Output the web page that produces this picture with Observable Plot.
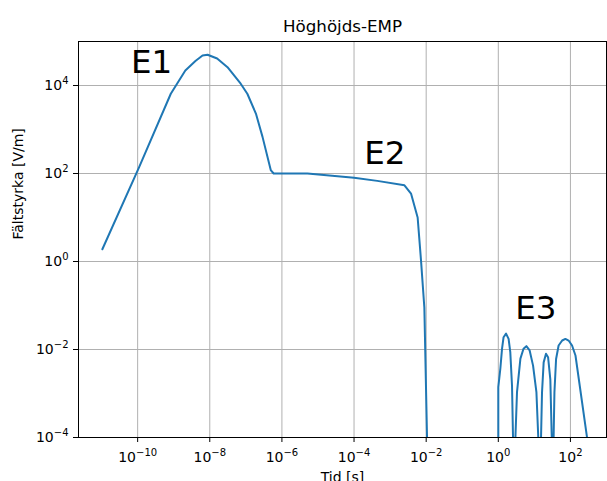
<!DOCTYPE html>
<html>
<head>
<meta charset="utf-8">
<script src="https://cdn.jsdelivr.net/npm/d3@7"></script>
<script src="https://cdn.jsdelivr.net/npm/@observablehq/plot@0.6"></script>
<style>
  html, body { margin: 0; padding: 0; background: white; }
</style>
</head>
<body>
<div id="chart"></div>
<script>
// Time [s]
const tid = [
  1.05e-11, 1.1e-10, 8.3e-10, 2.1e-9, 4.0e-9, 6.3e-9, 8.7e-9, 1.6e-8, 3.1e-8, 7.2e-8,
  1.1e-7, 1.9e-7, 2.9e-7, 4.9e-7, 5.9e-7,
  5.1e-6, 1.0e-4, 4.4e-4, 2.5e-3, 3.8e-3, 5.8e-3, 7.2e-3, 8.9e-3, 1.12e-2,
  1.0, 1.0, 1.14, 1.27, 1.40, 1.64, 1.93, 2.15, 2.4, 2.7,
  3.3, 4.1, 5.0, 6.0, 7.4, 9.2, 11.4, 14.4,
  16.3, 18.1, 21, 24, 27.7, 32.5,
  36, 40, 47, 59, 72.6, 89, 111, 138, 300
];
// Field strength [V/m]
const faltstyrka = [
  1.9, 140, 6500, 22000, 36000, 48000, 50000, 41000, 26000, 11000,
  6500, 2300, 680, 120, 100,
  100, 80, 68, 54, 35, 10, 1.05, 0.09, 1e-5,
  1e-7, 1.4e-3, 3.7e-3, 1.05e-2, 1.9e-2, 2.3e-2, 1.74e-2, 8.7e-3, 1.5e-3, 1e-5,
  1.07e-3, 6.2e-3, 1.04e-2, 1.19e-2, 9.5e-3, 4.3e-3, 1.07e-3, 1e-5,
  1.07e-3, 5.1e-3, 8e-3, 6.7e-3, 2.1e-3, 1e-5,
  1.07e-3, 6.1e-3, 1.23e-2, 1.6e-2, 1.74e-2, 1.6e-2, 1.23e-2, 7.3e-3, 8e-5
];
const xTicks = [1e-10, 1e-8, 1e-6, 1e-4, 1e-2, 1e0, 1e2];
const yTicks = [1e-4, 1e-2, 1e0, 1e2, 1e4];
const labels = ["E1", "E2", "E3"];
const labelX = [2.45e-10, 7.1e-4, 11];
const labelY = [33000, 283, 0.085];

const data = tid.map((t, i) => ({t, v: faltstyrka[i]}));
const ann = labels.map((l, i) => ({l, x: labelX[i], y: labelY[i]}));

const fmt = d => "10^" + Math.round(Math.log10(d));

const chart = Plot.plot({
  width: 607,
  height: 481,
  marginLeft: 78,
  marginRight: 1,
  marginTop: 41,
  marginBottom: 44,
  x: {type: "log", domain: [Math.pow(10, -11.64), 1e3]},
  y: {type: "log", domain: [1e-4, 1e5]},
  style: {fontFamily: "DejaVu Sans", fontSize: "14px", color: "black", background: "white"},
  marks: [
    Plot.gridX({ticks: xTicks, stroke: "#b0b0b0", strokeOpacity: 1, strokeWidth: 1}),
    Plot.gridY({ticks: yTicks, stroke: "#b0b0b0", strokeOpacity: 1, strokeWidth: 1}),
    Plot.line(data, {x: "t", y: "v", stroke: "#1f77b4", strokeWidth: 2, clip: true}),
    Plot.axisX({ticks: xTicks, tickFormat: fmt, tickSize: 5, tickPadding: 10, label: null, fontSize: 14}),
    Plot.axisY({ticks: yTicks, tickFormat: fmt, tickSize: 5, tickPadding: 5, label: null, fontSize: 14}),
    Plot.frame({stroke: "black", strokeWidth: 1}),
    Plot.text(ann, {x: "x", y: "y", text: "l", fontSize: 32.5, textAnchor: "middle", lineAnchor: "middle", fill: "black"}),
    Plot.text(["Höghöjds-EMP"], {frameAnchor: "top", dy: -15, fontSize: 16.7, lineAnchor: "middle", fill: "black"}),
    Plot.text(["Fältstyrka [V/m]"], {frameAnchor: "left", dx: -60, rotate: -90, fontSize: 14, lineAnchor: "middle", fill: "black"}),
    Plot.text(["Tid [s]"], {frameAnchor: "bottom", dy: 40, fontSize: 14, lineAnchor: "middle", fill: "black"})
  ]
});

// Render "10^n" tick labels as base + superscript exponent (mathtext style)
const NS = "http://www.w3.org/2000/svg";
chart.querySelectorAll("text").forEach(t => {
  const s = t.textContent;
  const m = /^10\^(-?\d+)$/.exec(s);
  if (!m) return;
  while (t.firstChild) t.removeChild(t.firstChild);
  const base = document.createElementNS(NS, "tspan");
  base.textContent = "10";
  const ex = document.createElementNS(NS, "tspan");
  ex.textContent = m[1].replace("-", "\u2212");
  ex.setAttribute("font-size", "10");
  ex.setAttribute("dy", "-6");
  t.appendChild(base);
  t.appendChild(ex);
});
document.getElementById("chart").appendChild(chart);
</script>
</body>
</html>
